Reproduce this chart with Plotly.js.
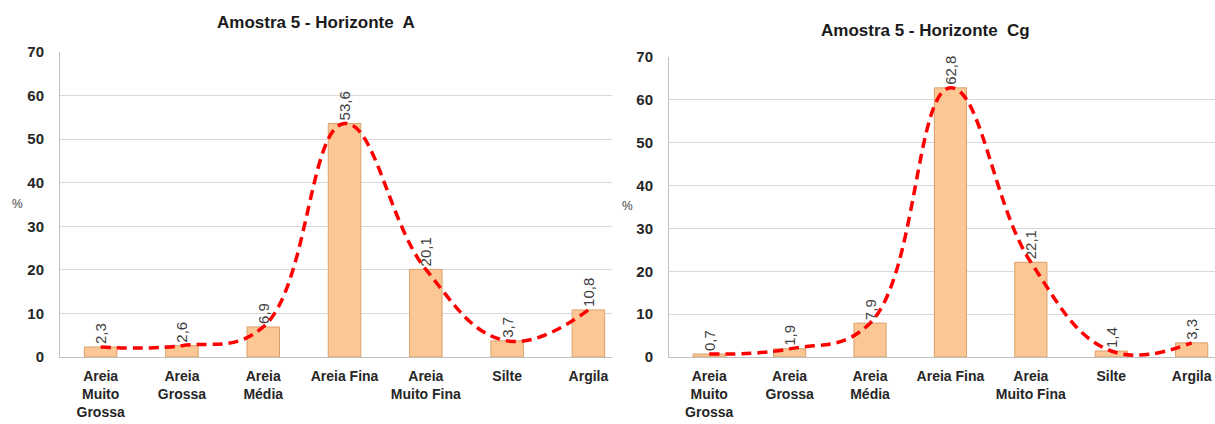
<!DOCTYPE html>
<html><head><meta charset="utf-8">
<script src="https://cdn.plot.ly/plotly-3.0.1.min.js"></script>
<style>html,body{margin:0;padding:0;background:#fff}#c{width:1215px;height:424px}</style>
</head><body><div id="c"></div>
<script>
const categories = ["Areia<br>Muito<br>Grossa","Areia<br>Grossa","Areia<br>Média","Areia Fina","Areia<br>Muito Fina","Silte","Argila"];
const valuesA = [2.3, 2.6, 6.9, 53.6, 20.1, 3.7, 10.8];
const valuesCg = [0.7, 1.9, 7.9, 62.8, 22.1, 1.4, 3.3];
const labelsA = ["2,3","2,6","6,9","53,6","20,1","3,7","10,8"];
const labelsCg = ["0,7","1,9","7,9","62,8","22,1","1,4","3,3"];
const titleA = "Amostra 5 - Horizonte  A";
const titleCg = "Amostra 5 - Horizonte  Cg";
const yTicks = [0,10,20,30,40,50,60,70];

const FONT = "Liberation Sans, Arial, sans-serif";
const idx = categories.map((_, i) => i);

function bar(vals, labels, xa, ya) {
  return {type:'bar', x: idx, y: vals, xaxis: xa, yaxis: ya,
    marker:{color:'#fbc895', line:{color:'#d9a06a', width:1}},
    text: labels, textposition:'outside', textangle:-90, cliponaxis:false,
    textfont:{family:FONT, size:15, color:'#404040'}, hoverinfo:'skip'};
}
function line(vals, xa, ya) {
  return {type:'scatter', mode:'lines', x: idx, y: vals, xaxis: xa, yaxis: ya,
    line:{color:'#ff0000', width:3.5, dash:'10px,6px', shape:'spline', smoothing:1.2},
    cliponaxis:false, hoverinfo:'skip'};
}
function xax(dom) {
  return {domain: dom, range:[-0.5, 6.29], tickmode:'array', tickvals: idx, ticktext: categories,
    showgrid:false, zeroline:false, showline:true, linecolor:'#bfbfbf', linewidth:1,
    ticks:'outside', ticklen:6, tickcolor:'rgba(0,0,0,0)',
    tickfont:{family:FONT, size:14, color:'#262626', weight:'bold'}, tickangle:0, fixedrange:true};
}
function yax(dom, anchor) {
  return {domain: dom, range:[0,70], tickmode:'array', tickvals: yTicks, anchor: anchor,
    showgrid:true, gridcolor:'#d9d9d9', gridwidth:1, zeroline:false,
    showline:true, linecolor:'#bfbfbf', linewidth:1,
    ticks:'outside', ticklen:12, tickcolor:'rgba(0,0,0,0)',
    tickfont:{family:FONT, size:15, color:'#262626', weight:'bold'}, fixedrange:true};
}

const data = [
  bar(valuesA, labelsA, 'x', 'y'), line(valuesA, 'x', 'y'),
  bar(valuesCg, labelsCg, 'x2', 'y2'), line(valuesCg, 'x2', 'y2')
];

const layout = {
  width:1215, height:424, margin:{l:0,r:0,t:0,b:0},
  paper_bgcolor:'#fff', plot_bgcolor:'rgba(0,0,0,0)', showlegend:false, bargap:0.6,
  xaxis: Object.assign(xax([60/1215, 612/1215]), {anchor:'y'}),
  yaxis: yax([(424-357)/424, (424-52)/424], 'x'),
  xaxis2: Object.assign(xax([669/1215, 1]), {anchor:'y2'}),
  yaxis2: yax([(424-357)/424, (424-57)/424], 'x2'),
  annotations:[
    {text:titleA, xref:'paper', yref:'paper', x:316/1215, y:1-22/424, xanchor:'center', yanchor:'middle', showarrow:false,
     font:{family:FONT, size:17, color:'#1a1a1a', weight:'bold'}},
    {text:titleCg, xref:'paper', yref:'paper', x:925/1215, y:1-30/424, xanchor:'center', yanchor:'middle', showarrow:false,
     font:{family:FONT, size:17, color:'#1a1a1a', weight:'bold'}},
    {text:'%', xref:'paper', yref:'paper', x:17/1215, y:1-204/424, xanchor:'center', yanchor:'middle', showarrow:false,
     font:{family:FONT, size:12, color:'#404040'}},
    {text:'%', xref:'paper', yref:'paper', x:627/1215, y:1-206/424, xanchor:'center', yanchor:'middle', showarrow:false,
     font:{family:FONT, size:12, color:'#404040'}}
  ]
};
Plotly.newPlot('c', data, layout, {displayModeBar:false, staticPlot:true});
</script></body></html>
